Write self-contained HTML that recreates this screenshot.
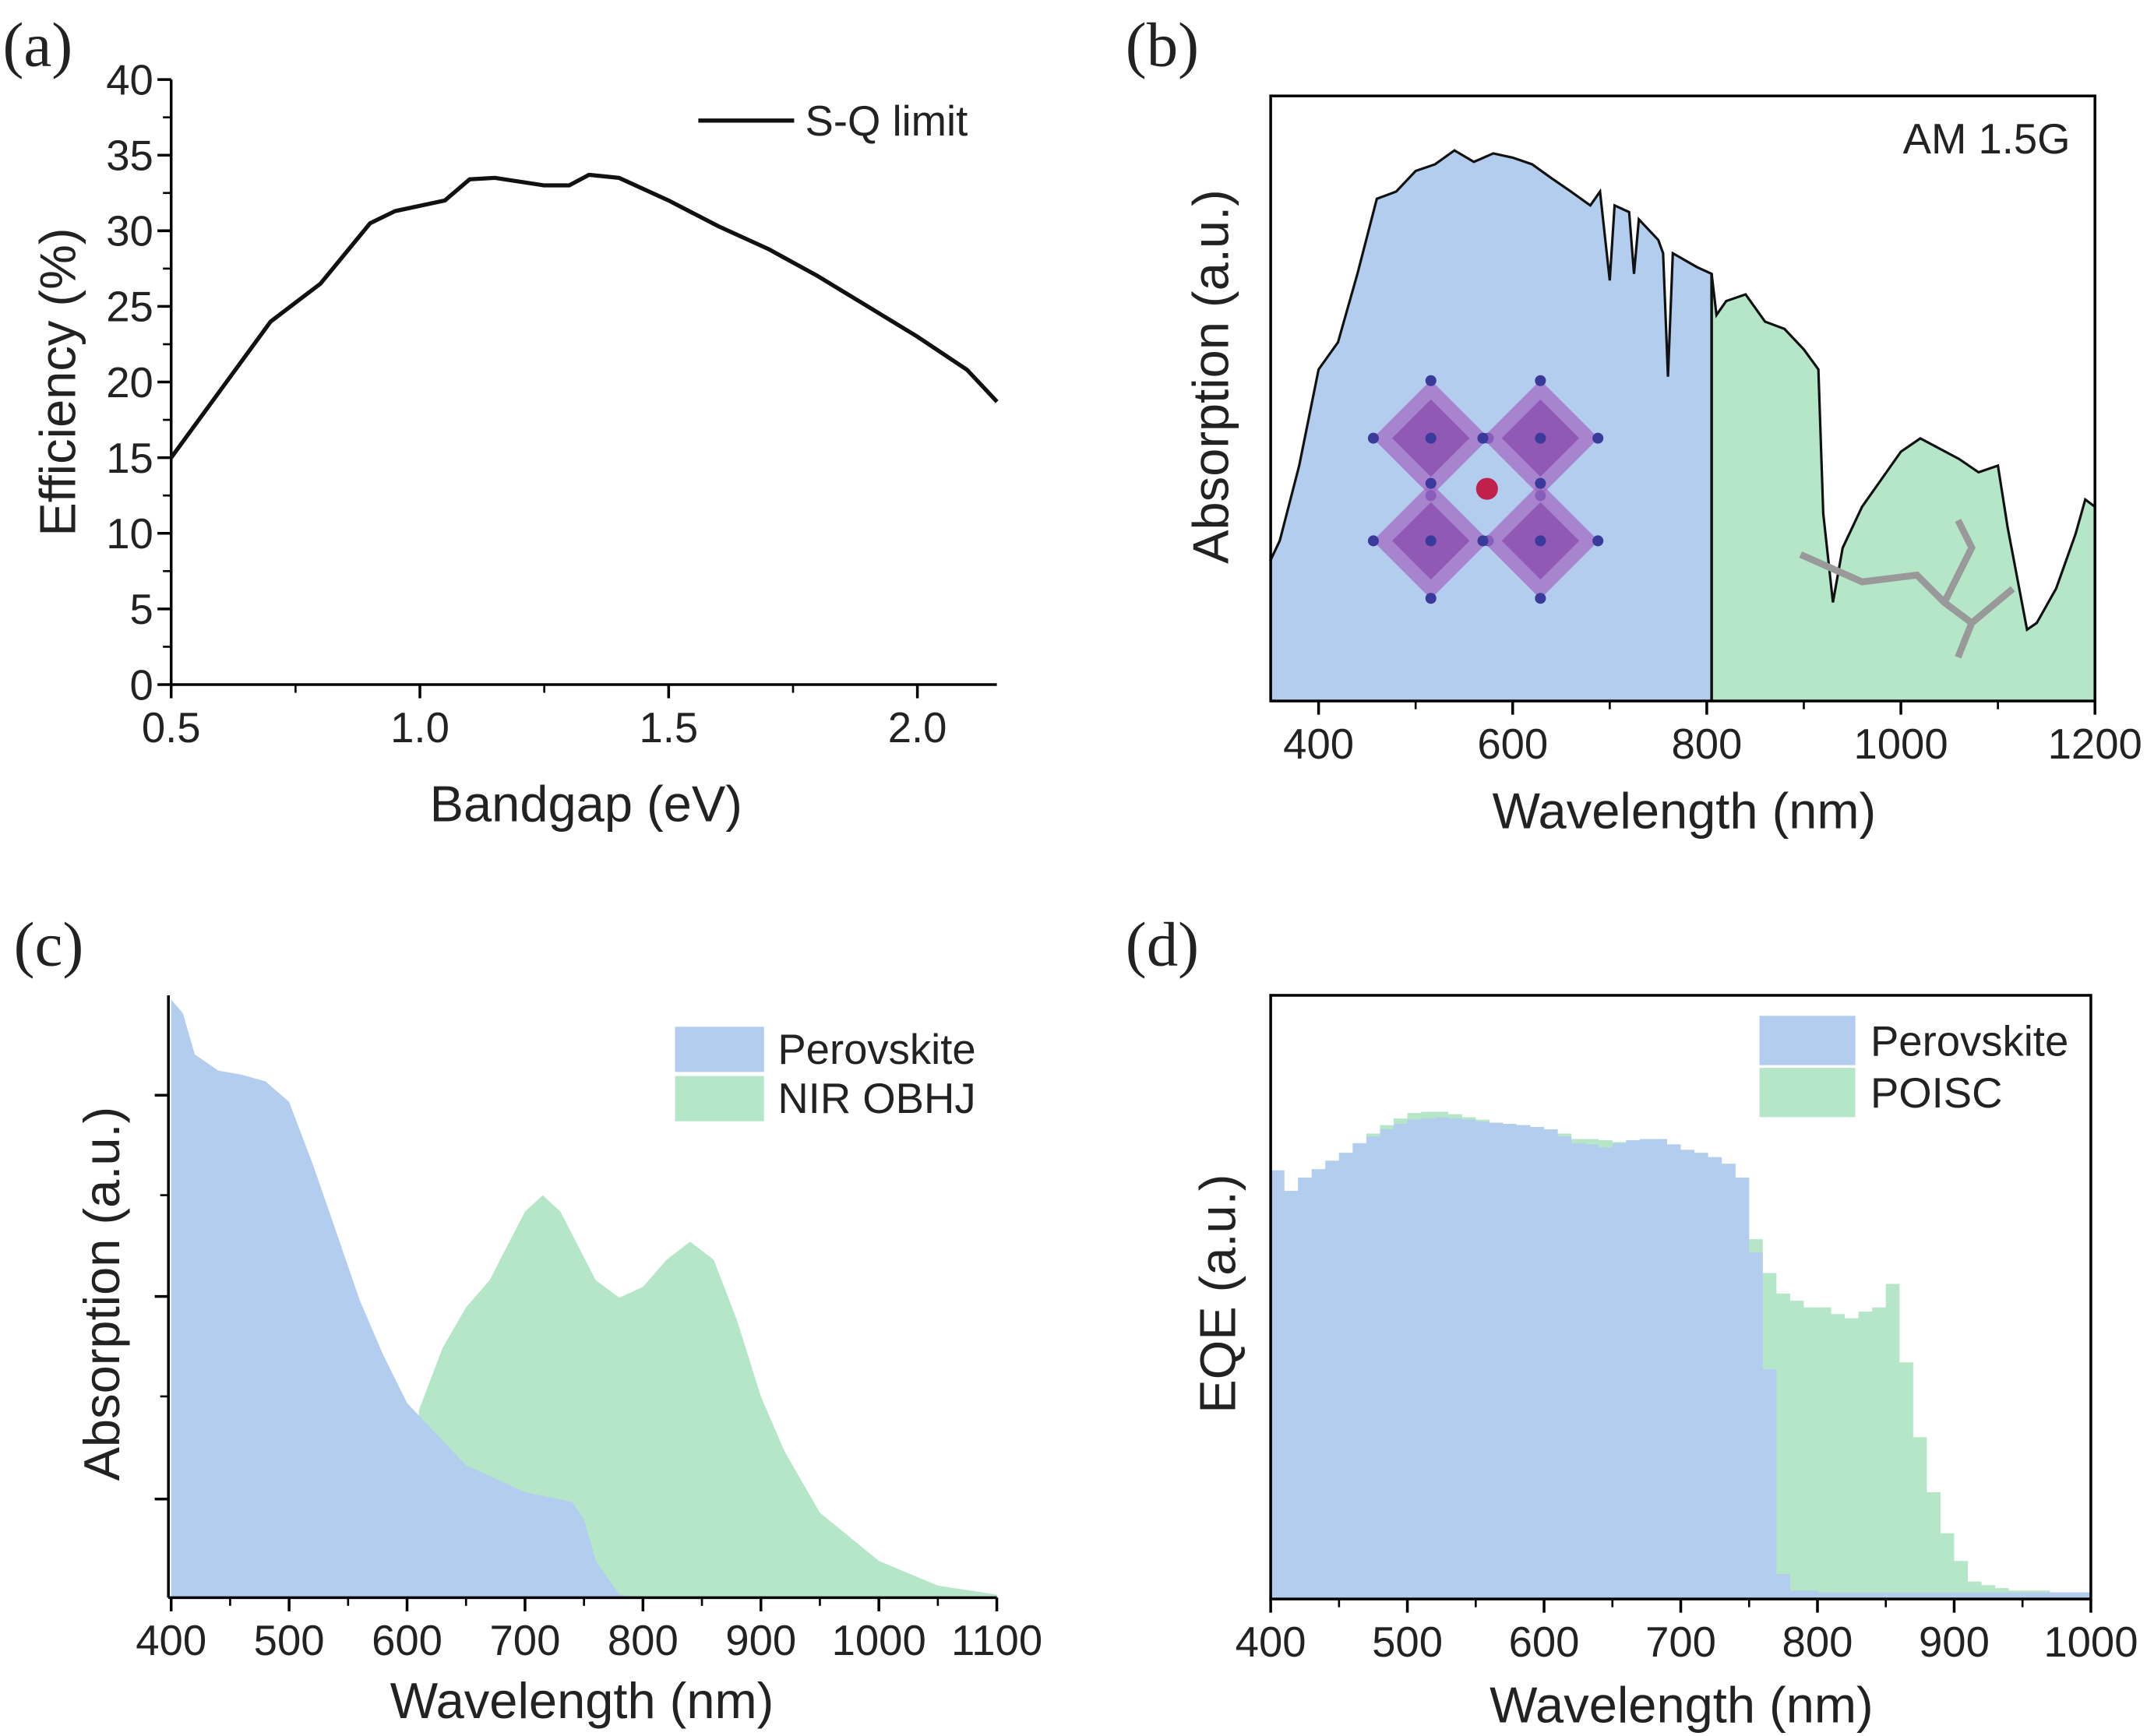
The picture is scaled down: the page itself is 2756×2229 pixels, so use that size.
<!DOCTYPE html>
<html><head><meta charset="utf-8"><style>
html,body{margin:0;padding:0;background:#fff}
svg{display:block}
text{font-family:"Liberation Sans",sans-serif;fill:#222}
.pl{font-family:"Liberation Serif",serif;font-size:46px}
.tk{font-size:31px}
.at{font-size:37px}
</style></head><body>
<svg id="fig" width="2756" height="2229" viewBox="0 0 1568 1268" xmlns="http://www.w3.org/2000/svg"></svg>
<script>
// ---- Panel (a) data
const aBandgap=[0.5,0.6,0.7,0.8,0.9,0.95,1.05,1.1,1.15,1.25,1.3,1.34,1.4,1.5,1.6,1.7,1.8,1.9,2.0,2.1,2.16];
const aEff=[15,19.5,24,26.5,30.5,31.3,32,33.4,33.5,33,33,33.7,33.5,32,30.3,28.8,27,25,23,20.8,18.7];
const aXTicks=[0.5,1.0,1.5,2.0];
const aYTicks=[0,5,10,15,20,25,30,35,40];
// ---- Panel (b) data
const bWl=[350,360,380,400,420,440,460,480,500,520,540,560,580,600,620,640,660,680,690,700,705,720,725,730,750,755,760,765,790,805,810,820,840,860,880,900,915,920,930,940,960,1000,1020,1060,1080,1100,1110,1130,1140,1160,1180,1190,1200];
const bY=[410,395,340,270,250,200,145,140,125,120,110,118,112,115,120,130,140,150,140,205,150,155,200,160,175,185,275,185,195,200,230,220,215,235,240,255,270,375,440,400,370,330,320,335,345,340,385,460,455,430,390,365,370];
const bIrr=bY.map(y=>+((512-y)/442).toFixed(3));
const bXTicks=[400,600,800,1000,1200];
// ---- Panel (c) data
const cPvWl=[400,410,420,440,460,480,500,520,540,560,580,600,650,700,740,750,760,780,800,1100];
const cPv=[730,740,770,782,785,790,805,850,900,950,990,1025,1070,1090,1097,1110,1140,1165,1167,1167].map(y=>+((1167-y)/440).toFixed(3));
const cNirWl=[610,630,650,670,700,715,730,760,780,800,820,840,860,880,900,920,950,1000,1050,1100];
const cNir=[1030,985,955,935,885,873,885,935,948,940,920,907,920,965,1020,1060,1105,1140,1158,1165].map(y=>+((1167-y)/440).toFixed(3));
const cXTicks=[400,500,600,700,800,900,1000,1100];
// ---- Panel (d) data
const dWl=[400,410,420,430,440,450,460,470,480,490,500,510,520,530,540,550,560,570,580,590,600,610,620,630,640,650,660,670,680,690,700,710,720,730,740,750,760,770,780,790,800,810,820,830,840,850,860,870,880,890,900,910,920,930,940,950,960,970,980,990];
const dPvY=[855,870,860,854,848,842,835,830,825,821,818,817,816,817,818,819,820,821,822,823,825,830,835,836,838,835,833,832,832,836,840,842,845,850,860,915,1000,1150,1162,1162,1163,1163,1163,1163,1163,1163,1163,1163,1163,1163,1163,1163,1163,1163,1163,1163,1163,1163,1163,1163];
const dPoY=[855,870,860,854,848,842,835,828,822,817,813,812,812,814,816,818,820,821,822,823,825,828,832,832,833,834,833,832,832,836,840,842,845,850,860,905,930,945,950,955,955,960,963,958,955,938,995,1050,1090,1120,1140,1155,1158,1160,1162,1162,1162,1163,1163,1163];
const dPv=dPvY.map(y=>+((1168-y)/441).toFixed(3));
const dPo=dPoY.map(y=>+((1168-y)/441).toFixed(3));
const dXTicks=[400,500,600,700,800,900,1000];

const NS="http://www.w3.org/2000/svg";
const svg=document.getElementById('fig');
function mk(tag,attrs,parent,txt){const e=document.createElementNS(NS,tag);for(const k in attrs)e.setAttribute(k,attrs[k]);if(txt!==undefined)e.textContent=txt;(parent||svg).appendChild(e);return e;}
function lin(d0,d1,r0,r1){return v=>r0+(v-d0)/(d1-d0)*(r1-r0);}
const BLUE="#b3cdee",GREEN="#b6e6c8";

[["(a)",2,48],["(b)",822,48],["(c)",10,705],["(d)",822,705]].forEach(([t,x,y])=>{
 const e=mk('text',{x:x,y:y,class:'pl'},svg,t);
 
 
});

function axisTitleY(t,x,y,name){const e=mk('text',{x:x,y:y,class:'at','text-anchor':'middle',transform:`rotate(-90 ${x} ${y})`},svg,t);}
function axisTitleX(t,x,y,name){const e=mk('text',{x:x,y:y,class:'at','text-anchor':'middle'},svg,t);}
function xTicks(g,ticks,sx,y0,minorStep,lo,hi,name,fmt){
 ticks.forEach(v=>{mk('line',{x1:sx(v),x2:sx(v),y1:y0,y2:y0+10,stroke:'#000','stroke-width':2},g);
  const t=mk('text',{x:sx(v),y:y0+42,class:'tk','text-anchor':'middle'},g,fmt?fmt(v):v);
  });
 for(let v=lo;v<=hi+1e-9;v+=minorStep){mk('line',{x1:sx(v),x2:sx(v),y1:y0,y2:y0+6,stroke:'#000','stroke-width':1.5},g);}
}
function areaPath(xs,ys,sx,sy,base){let d=`M${sx(xs[0])},${base}`;xs.forEach((x,i)=>d+=`L${sx(x)},${sy(ys[i])}`);d+=`L${sx(xs[xs.length-1])},${base}Z`;return d;}
function stepPath(xs,ys,sx,sy,base,w){let d=`M${sx(xs[0])},${base}`;xs.forEach((x,i)=>{d+=`L${sx(x)},${sy(ys[i])}L${sx(x+w)},${sy(ys[i])}`;});d+=`L${sx(xs[xs.length-1]+w)},${base}Z`;return d;}

// ---------- Panel A
(function(){
 const g=mk('g',{});
 const sx=lin(0.5,2.0,125,670), sy=lin(0,40,500,58);
 mk('line',{x1:125,x2:125,y1:58,y2:500,stroke:'#000','stroke-width':2},g);
 mk('line',{x1:125,x2:728,y1:500,y2:500,stroke:'#000','stroke-width':2},g);
 aYTicks.forEach(v=>{mk('line',{x1:115,x2:125,y1:sy(v),y2:sy(v),stroke:'#000','stroke-width':2},g);
  const t=mk('text',{x:112,y:sy(v)+11,class:'tk','text-anchor':'end'},g,v);
  if(v<40)mk('line',{x1:119,x2:125,y1:sy(v+2.5),y2:sy(v+2.5),stroke:'#000','stroke-width':1.5},g);});
 xTicks(g,aXTicks,sx,500,0.25,0.5,2.16,'a-x',v=>v.toFixed(1));
 let d='';aBandgap.forEach((x,i)=>d+=(i?'L':'M')+sx(x)+','+sy(aEff[i]));
 const p=mk('path',{d:d,fill:'none',stroke:'#111','stroke-width':3,'stroke-linejoin':'round'},g);
 
 const lg=mk('g',{},g);
 mk('line',{x1:510,x2:580,y1:88,y2:88,stroke:'#111','stroke-width':3},lg);
 mk('text',{x:588,y:99,class:'tk'},lg,'S-Q limit');
 axisTitleY('Efficiency (%)',55,279,'a-y-axis-title');
 axisTitleX('Bandgap (eV)',428,600,'a-x-axis-title');
})();

// ---------- Panel B
(function(){
 const g=mk('g',{});
 const sx=lin(400,1200,963,1530), sy=lin(0,1,512,70);
 const split=805;
 const bi=bWl.filter(w=>w<=split), gi=bWl.filter(w=>w>=split);
 const blue=mk('path',{d:areaPath(bi,bIrr.slice(0,bi.length),sx,sy,512),fill:BLUE},g);
 
 const gs=bWl.indexOf(split);
 const green=mk('path',{d:areaPath(gi,bIrr.slice(gs),sx,sy,512),fill:GREEN},g);
 
 mk('line',{x1:sx(split),x2:sx(split),y1:sy(bIrr[gs]),y2:512,stroke:'#111','stroke-width':2},g);
 let d='';bWl.forEach((x,i)=>d+=(i?'L':'M')+sx(x)+','+sy(bIrr[i]));
 const l=mk('path',{d:d,fill:'none',stroke:'#111','stroke-width':1.8},g);
 const ins=mk('g',{},g);
 [[1045,320],[1125,320],[1045,395],[1125,395]].forEach(([cx,cy])=>{
  mk('rect',{x:cx-30,y:cy-30,width:60,height:60,fill:'#a46bc4',opacity:0.75,transform:`rotate(45 ${cx} ${cy})`},ins);
  mk('rect',{x:cx-20,y:cy-20,width:40,height:40,fill:'#8a4fae',opacity:0.8,transform:`rotate(45 ${cx} ${cy})`},ins);
  [[0,-42],[0,42],[-42,0],[42,0],[0,0]].forEach(([dx,dy])=>mk('circle',{cx:cx+dx,cy:cy+dy,r:4,fill:'#3a3a9a'},ins));
 });
 mk('circle',{cx:1086,cy:357,r:8,fill:'#c0204a'},ins);
 const mol=mk('g',{},g);
 mk('path',{d:'M1315,405 L1360,425 L1400,420 L1420,440 L1440,455 L1430,480 M1420,440 L1440,400 L1430,380 M1440,455 L1470,430',fill:'none',stroke:'#999','stroke-width':5},mol);
 const t=mk('text',{x:1512,y:112,class:'tk','text-anchor':'end'},g,'AM 1.5G');
 mk('rect',{x:928,y:70,width:602,height:442,fill:'none',stroke:'#000','stroke-width':2},g);
 xTicks(g,bXTicks,sx,512,100,400,1200,'b-x');
 axisTitleY('Absorption (a.u.)',897,275,'b-y-axis-title');
 axisTitleX('Wavelength (nm)',1230,605,'b-x-axis-title');
})();

// ---------- Panel C
(function(){
 const g=mk('g',{});
 const sx=lin(400,1100,125,728), sy=lin(0,1,1167,727);
 const n=mk('path',{d:areaPath(cNirWl,cNir,sx,sy,1167),fill:GREEN},g);
 const p=mk('path',{d:areaPath(cPvWl,cPv,sx,sy,1167),fill:BLUE},g);
 mk('line',{x1:123,x2:123,y1:727,y2:1167,stroke:'#000','stroke-width':2},g);
 mk('line',{x1:123,x2:728,y1:1167,y2:1167,stroke:'#000','stroke-width':2},g);
 [800,947,1095].forEach(y=>mk('line',{x1:113,x2:123,y1:y,y2:y,stroke:'#000','stroke-width':2},g));
 [873,1020].forEach(y=>mk('line',{x1:117,x2:123,y1:y,y2:y,stroke:'#000','stroke-width':1.5},g));
 xTicks(g,cXTicks,sx,1167,50,400,1100,'c-x');
 [[BLUE,'Perovskite',750],[GREEN,'NIR OBHJ',786]].forEach(([c,t,y])=>{const lg=mk('g',{},g);
  mk('rect',{x:493,y:y,width:65,height:33,fill:c},lg);mk('text',{x:568,y:y+27,class:'tk'},lg,t);});
 axisTitleY('Absorption (a.u.)',87,945,'c-y-axis-title');
 axisTitleX('Wavelength (nm)',425,1255,'c-x-axis-title');
})();

// ---------- Panel D
(function(){
 const g=mk('g',{});
 const sx=lin(400,1000,928,1527), sy=lin(0,1,1168,727);
 const o=mk('path',{d:stepPath(dWl,dPo,sx,sy,1168,10),fill:GREEN},g);
 const p=mk('path',{d:stepPath(dWl,dPv,sx,sy,1168,10),fill:BLUE},g);
 mk('rect',{x:928,y:727,width:599,height:441,fill:'none',stroke:'#000','stroke-width':2},g);
 xTicks(g,dXTicks,sx,1168,50,400,1000,'d-x');
 [[BLUE,'Perovskite',742],[GREEN,'POISC',780]].forEach(([c,t,y])=>{const lg=mk('g',{},g);
  mk('rect',{x:1285,y:y,width:70,height:36,fill:c},lg);mk('text',{x:1366,y:y+29,class:'tk'},lg,t);});
 axisTitleY('EQE (a.u.)',902,945,'d-y-axis-title');
 axisTitleX('Wavelength (nm)',1228,1258,'d-x-axis-title');
})();
</script>
</body></html>
